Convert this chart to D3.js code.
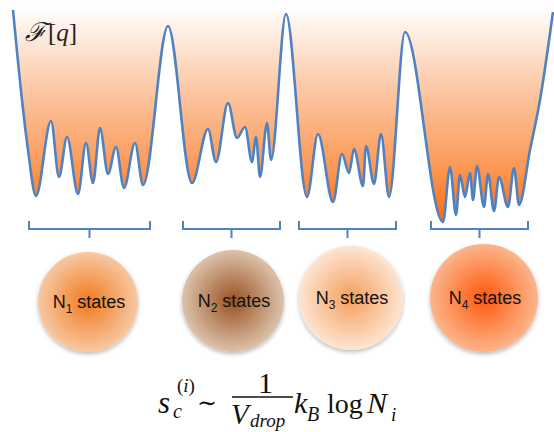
<!DOCTYPE html>
<html>
<head>
<meta charset="utf-8">
<script src="https://cdn.jsdelivr.net/npm/d3@7/dist/d3.min.js"></script>
<style>
html,body{margin:0;padding:0;background:#fff;}
svg{display:block;}
</style>
</head>
<body>
<svg id="chart" width="554" height="432"></svg>
<script>
// ---- data (q position, free energy F = height above baseline) ----
const qKnots = [13,22,28,36,51,59,67,78,86,93,100,108,116,124,135,143,168,192,208,216,228,237,245,252,256,260,267,271,286,307,318,333,342,349,354,363,366,374,381,389,405,443,450,456,460,465,470,473,477,484,488,494,499,508,514,519,530,540,553];
const fKnots = [220,130,80,34,109,53,93,36,87,47,102,56,83,42,87,45,204,47,101,68,127,92,103,68,93,53,107,70,216,33,96,28,76,57,81,44,84,46,96,33,198,8,63,15,55,33,57,30,64,23,56,19,53,23,62,25,80,130,218];

// basins (groups of states) in q units
const basinStart = [29,183,299,431];
const basinEnd   = [150,280,396,528];

// state circles
const stateIndex  = ["1","2","3","4"];
const circleQ     = [88,233,351,484];
const circleY     = [302,301,298,298];
const circleR     = [50,51,52,54];
const circleInner = ["#f07a1e","#9a5224","#f59e5c","#ff580a"];
const circleOuter = ["#f7c8a2","#dcc2aa","#fde5d2","#fbb58c"];

// ---- scales ----
const svg = d3.select("#chart");
const x = d3.scaleLinear().domain([0,554]).range([0,554]);
const y = d3.scaleLinear().domain([0,230]).range([230,0]);

const defs = svg.append("defs");
const lg = defs.append("linearGradient").attr("id","fillGrad")
  .attr("gradientUnits","userSpaceOnUse").attr("x1",0).attr("x2",0)
  .attr("y1",y(224)).attr("y2",y(8));
lg.append("stop").attr("offset","0%").attr("stop-color","#ffffff");
lg.append("stop").attr("offset","40%").attr("stop-color","#fcc6a2");
lg.append("stop").attr("offset","75%").attr("stop-color","#fb9855");
lg.append("stop").attr("offset","100%").attr("stop-color","#ff6a0c");

const flt = defs.append("filter").attr("id","shadow").attr("x","-20%").attr("y","-20%").attr("width","140%").attr("height","150%");
flt.append("feDropShadow").attr("dx",0).attr("dy",2).attr("stdDeviation",2)
  .attr("flood-color","#000").attr("flood-opacity",0.28);

stateIndex.forEach((s,i)=>{
  const rg = defs.append("radialGradient").attr("id","cg"+i);
  rg.append("stop").attr("offset","0%").attr("stop-color",circleInner[i]);
  rg.append("stop").attr("offset","100%").attr("stop-color",circleOuter[i]);
});

const pts = qKnots.map((q,i)=>[q,fKnots[i]]);

const area = d3.area().x(d=>x(d[0])).y0(y(230)).y1(d=>y(d[1])).curve(d3.curveMonotoneX);
const line = d3.line().x(d=>x(d[0])).y(d=>y(d[1])).curve(d3.curveMonotoneX);

svg.append("path").attr("d",area(pts)).attr("fill","url(#fillGrad)");
svg.append("path").attr("d",line(pts)).attr("fill","none")
  .attr("stroke","#5081c0").attr("stroke-width",2.6).attr("stroke-linejoin","round");

// brackets
const bTop = y(9), bMid = y(1), bTick = y(-8);
basinStart.forEach((s,i)=>{
  const e = basinEnd[i], c = (s+e)/2;
  const p = d3.path();
  p.moveTo(x(s),bTop); p.lineTo(x(s),bMid); p.lineTo(x(e),bMid); p.lineTo(x(e),bTop);
  p.moveTo(x(c),bMid); p.lineTo(x(c),bTick);
  svg.append("path").attr("d",p.toString()).attr("fill","none")
    .attr("stroke","#5081c0").attr("stroke-width",2);
});

// circles
const cg = svg.append("g");
stateIndex.forEach((s,i)=>{
  cg.append("circle").attr("cx",x(circleQ[i])).attr("cy",circleY[i]).attr("r",circleR[i])
    .attr("fill","url(#cg"+i+")").attr("filter","url(#shadow)");
  const t = cg.append("text").attr("x",x(circleQ[i])+1).attr("y",circleY[i]+6)
    .attr("text-anchor","middle").attr("font-family","Liberation Sans, Arial, sans-serif")
    .attr("font-size",18).attr("fill","#111");
  t.append("tspan").text("N");
  t.append("tspan").attr("font-size",12).attr("dy",5).text(s);
  t.append("tspan").attr("dy",-5).text(" states");
});

// F[q] label
const fl = svg.append("text").attr("x",25).attr("y",41)
  .attr("font-family","Liberation Serif, serif").attr("font-size",25).attr("fill","#222");
fl.append("tspan").attr("font-family","DejaVu Serif, serif").attr("font-style","italic").attr("font-size",26).text("ℱ");
fl.append("tspan").attr("dx",2).text("[");
fl.append("tspan").attr("font-style","italic").text("q");
fl.append("tspan").text("]");

// formula
const ff = "Liberation Serif, serif";
function piece(txt,px,py,size,italic){
  return svg.append("text").attr("x",px).attr("y",py).attr("font-family",ff)
    .attr("font-size",size).attr("fill","#111").attr("font-style",italic?"italic":"normal").text(txt);
}
piece("s",158,413,31,true);
const sup = svg.append("text").attr("x",177).attr("y",392).attr("font-family",ff).attr("font-size",19).attr("fill","#111");
sup.append("tspan").text("(");
sup.append("tspan").attr("font-style","italic").text("i");
sup.append("tspan").text(")");
piece("c",173,418,20,true);
svg.append("text").attr("x",197).attr("y",411).attr("font-family","DejaVu Serif, serif").attr("font-size",24)
  .attr("fill","#111").text("∼");
piece("1",258,393,30,false);
svg.append("line").attr("x1",232).attr("x2",293).attr("y1",397).attr("y2",397).attr("stroke","#111").attr("stroke-width",1.3);
piece("V",231,424,29,true);
piece("drop",250,427,19,true);
piece("k",294,413,30,true);
piece("B",307,421,20,true);
piece("log",327,413,28,false);
piece("N",367,413,30,true);
piece("i",391,421,19,true);
</script>
</body>
</html>
